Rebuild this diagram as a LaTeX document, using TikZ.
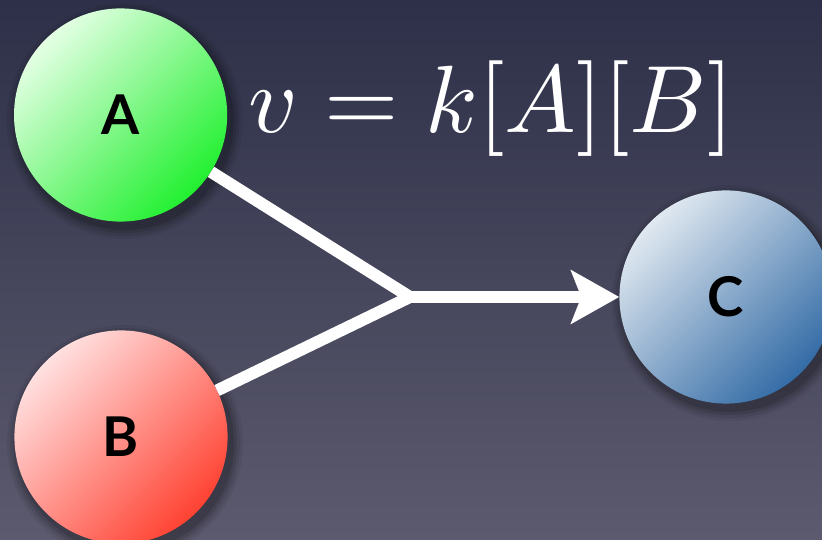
\documentclass[tikz,border=0pt]{standalone}
\usepackage{fontspec}
\newfontfamily\ballfont{Lato}
\usepackage{tikz}
\usetikzlibrary{positioning,arrows.meta}
\definecolor{bgtop}{RGB}{45,48,72}
\definecolor{bgbot}{RGB}{92,90,110}
\definecolor{greenlo}{RGB}{34,240,48}
\definecolor{greenhi}{RGB}{228,255,228}
\definecolor{redlo}{RGB}{255,66,50}
\definecolor{redhi}{RGB}{255,224,224}
\definecolor{bluelo}{RGB}{52,108,166}
\definecolor{bluehi}{RGB}{224,232,240}

\begin{document}
\begin{tikzpicture}[
        ball/.style={circle, minimum size=10.66cm, inner sep=0pt,
                     font=\ballfont\bfseries\fontsize{78}{84}\selectfont},
        greenball/.style={ball, top color=greenhi, bottom color=greenlo, shading angle=45},
        redball/.style={ball, top color=redhi, bottom color=redlo, shading angle=45},
        blueball/.style={ball, top color=bluehi, bottom color=bluelo, shading angle=45},
        wire/.style={white, line width=0.6cm, line join=miter},
        arr/.style={-{Stealth[length=2.4cm, width=2.65cm, inset=0.5cm]},
                    white, line width=0.6cm}
      ]
        \useasboundingbox (0,0) rectangle (41.1,26.95);
        % background
        \shade[top color=bgtop, bottom color=bgbot] (0,0) rectangle (41.1,26.95);

        % soft shadows under the balls
        \foreach \p in {(6.03,21.2),(6.05,5.1),(36.3,12.1)}
          \foreach \r/\o in {5.9/0.06,5.75/0.08,5.6/0.1,5.45/0.12}
            \fill[black, opacity=\o] \p ++(0.2,-0.3) circle (\r);

        \node[greenball] (a) at (6.03,21.2) {A};
        \node[redball] (b) at (6.05,5.1) {B};
        \node[blueball] (c) at (36.3,12.1) {C};
        \coordinate (j) at (20.5,12.1);

        \draw[wire] (a) -- (j) -- (b);
        \draw[arr] (j) -- (c);

        \node[anchor=base, text=white, scale=13.6, transform shape]
              (rate) at (24.55,20.35) {$v = k[A][B]$};
      \end{tikzpicture}
\end{document}
